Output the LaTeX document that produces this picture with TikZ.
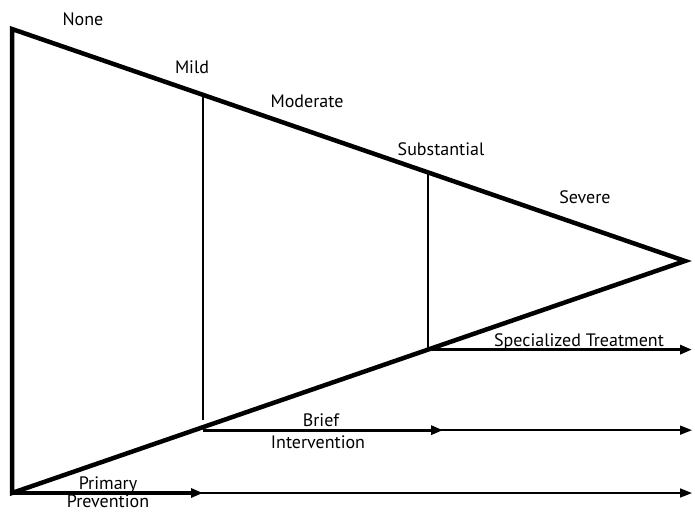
\documentclass[tikz,border=0pt]{standalone}
\usepackage{fontspec}
\setmainfont{PT Sans}
\usetikzlibrary{calc, arrows.meta}

\begin{document}
\begin{tikzpicture}[x=1pt, y=-1pt, >={Triangle[length=12pt, width=9pt]},
    font=\fontsize{18}{21}\selectfont,
    edge/.style={line width=4.5pt, line join=miter},
    bar/.style={line width=1.2pt},
    thickflow/.style={->, line width=3.2pt},
    thinflow/.style={->, line width=1.6pt},
    lvl/.style={anchor=base, inner sep=0pt}]
    \useasboundingbox (0,0) rectangle (695,511);
    % the triangle
    \coordinate (top) at (12,29);
    \coordinate (bot) at (12,493);
    \coordinate (tip) at (685,261);
    \draw [edge] (bot) -- (top) -- (tip) -- cycle;
    % level boundaries
    \coordinate (m1t) at ($(top)!0.2838!(tip)$);
    \coordinate (m1b) at ($(bot)!0.2838!(tip)$);
    \coordinate (m2t) at ($(top)!0.6181!(tip)$);
    \coordinate (m2b) at ($(bot)!0.6181!(tip)$);
    \draw [bar] (m1t) -- ($(m1b)+(0,-7)$);
    \draw [bar] (m2t) -- (m2b);
    % services
    \coordinate (pp) at (203,493);
    \coordinate (ppend) at (692,493);
    \coordinate (bi) at ($(m1b)+(0,3)$);
    \coordinate (bimid) at (443,0 |- bi);
    \coordinate (biend) at (692,0 |- bi);
    \coordinate (stend) at (692,0 |- m2b);
    \draw [thinflow] ($(pp)+(-8,0)$) -- (ppend);
    \draw [thickflow] (bot) -- (pp);
    \draw [thinflow] ($(bimid)+(-8,0)$) -- (biend);
    \draw [thickflow] (bi) -- (bimid);
    \draw [thickflow] (m2b) -- (stend);
    % labels
    \node [lvl] (none) at (83,26) {None};
    \node [lvl] (mild) at (192,74) {Mild};
    \node [lvl] (moderate) at (307,107) {Moderate};
    \node [lvl] (substantial) at (441,155) {Substantial};
    \node [lvl] (severe) at (585,203) {Severe};
    \node [lvl] (spec) at (579,346) {Specialized Treatment};
    \node [lvl] (brief) at (321,426) {Brief};
    \node [lvl] (interv) at (318,448) {Intervention};
    \node [lvl] (primary) at (108,489) {Primary};
    \node [lvl] (prev) at (108,507) {Prevention};
\end{tikzpicture}
\end{document}
